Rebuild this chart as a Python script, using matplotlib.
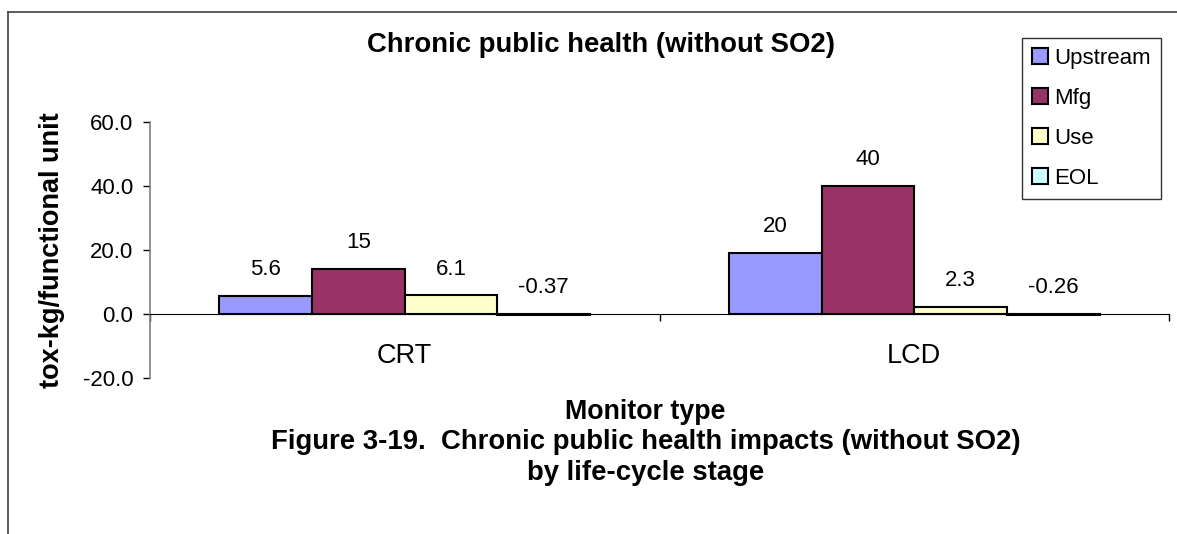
import numpy as np
import matplotlib.pyplot as plt
from matplotlib.patches import Rectangle
from matplotlib.lines import Line2D

plt.rcParams['font.family'] = ['Liberation Sans', 'DejaVu Sans']

# data
monitors = ['CRT', 'LCD']
stages = ['Upstream', 'Mfg', 'Use', 'EOL']
upstream = [5.6, 19.2]
mfg = [14.2, 40.1]
use = [5.8, 2.3]
eol = [-0.37, -0.26]
# labels as printed on the chart
upstream_lbl = ['5.6', '20']
mfg_lbl = ['15', '40']
use_lbl = ['6.1', '2.3']
eol_lbl = ['-0.37', '-0.26']
colors = ['#9999FF', '#993366', '#FFFFCC', '#CCFFFF']

series = [upstream, mfg, use, eol]
series_lbl = [upstream_lbl, mfg_lbl, use_lbl, eol_lbl]

fig = plt.figure(figsize=(11.77, 5.34), dpi=100)
ax = fig.add_axes([150/1177, 1-378/534, 1019/1177, 256/534])

x = np.arange(len(monitors))
w = 1 / 5.5
for i, vals in enumerate(series):
    pos = x + (i - 1.5) * w
    ax.bar(pos, vals, width=w, color=colors[i], edgecolor='black', linewidth=1.5, zorder=3)
    for p, v, t in zip(pos, vals, series_lbl[i]):
        ax.annotate(t, (p, max(v, 0)), xytext=(0, 19), textcoords='offset points',
                    ha='center', va='center', fontsize=16)

ax.set_xlim(-0.5, 1.5)
ax.set_ylim(-20, 60)
ax.set_yticks([-20, 0, 20, 40, 60])
ax.set_yticklabels(['%.1f' % t for t in [-20, 0, 20, 40, 60]])
ax.tick_params(axis='y', labelsize=16, colors='black', length=5, width=1, pad=7)
for t in ax.yaxis.get_ticklines():
    t.set_color('#808080')

ax.set_xticks(x)
ax.set_xticklabels(monitors)
ax.set_xticks([-0.5, 0.5, 1.5], minor=True)
ax.tick_params(axis='x', which='major', length=0, labelsize=19.5, pad=21)
ax.tick_params(axis='x', which='minor', length=5, width=1, color='black')

for s in ['top', 'right']:
    ax.spines[s].set_visible(False)
ax.spines['left'].set_color('#808080')
ax.spines['left'].set_linewidth(1.2)
ax.spines['bottom'].set_position(('data', 0))
ax.spines['bottom'].set_color('black')
ax.spines['bottom'].set_zorder(4)

ax.set_ylabel('tox-kg/functional unit', fontsize=19.5, fontweight='bold')
ax.yaxis.set_label_coords(-0.083, 0.5)

handles = [Rectangle((0, 0), 1, 1, facecolor=c, edgecolor='black', linewidth=1.5) for c in colors]
leg = ax.legend(handles, stages, loc='upper right', bbox_to_anchor=(1161/1177, 1-38/534),
                bbox_transform=fig.transFigure, fontsize=16, frameon=True, fancybox=False,
                edgecolor='black', handlelength=0.7, handleheight=0.7, handletextpad=0.3,
                labelspacing=0.85, borderpad=0.45, borderaxespad=0)
leg.get_frame().set_linewidth(1)

fig.text(601/1177, 1-45/534, 'Chronic public health (without SO2)', ha='center', va='center',
         fontsize=19.8, fontweight='bold')
fig.text(645/1177, 1-412/534, 'Monitor type', ha='center', va='center', fontsize=19.3, fontweight='bold')
fig.text(646/1177, 1-442/534, 'Figure 3-19.  Chronic public health impacts (without SO2)',
         ha='center', va='center', fontsize=19.8, fontweight='bold')
fig.text(646/1177, 1-473/534, 'by life-cycle stage', ha='center', va='center', fontsize=19.8, fontweight='bold')

# outer frame (top and left edges)
fig.add_artist(Line2D([8/1177, 1], [1-12/534, 1-12/534], transform=fig.transFigure, color='#404040', lw=1.2))
fig.add_artist(Line2D([8/1177, 8/1177], [0, 1-12/534], transform=fig.transFigure, color='#404040', lw=1.2))

fig.savefig('out.png', dpi=100)
